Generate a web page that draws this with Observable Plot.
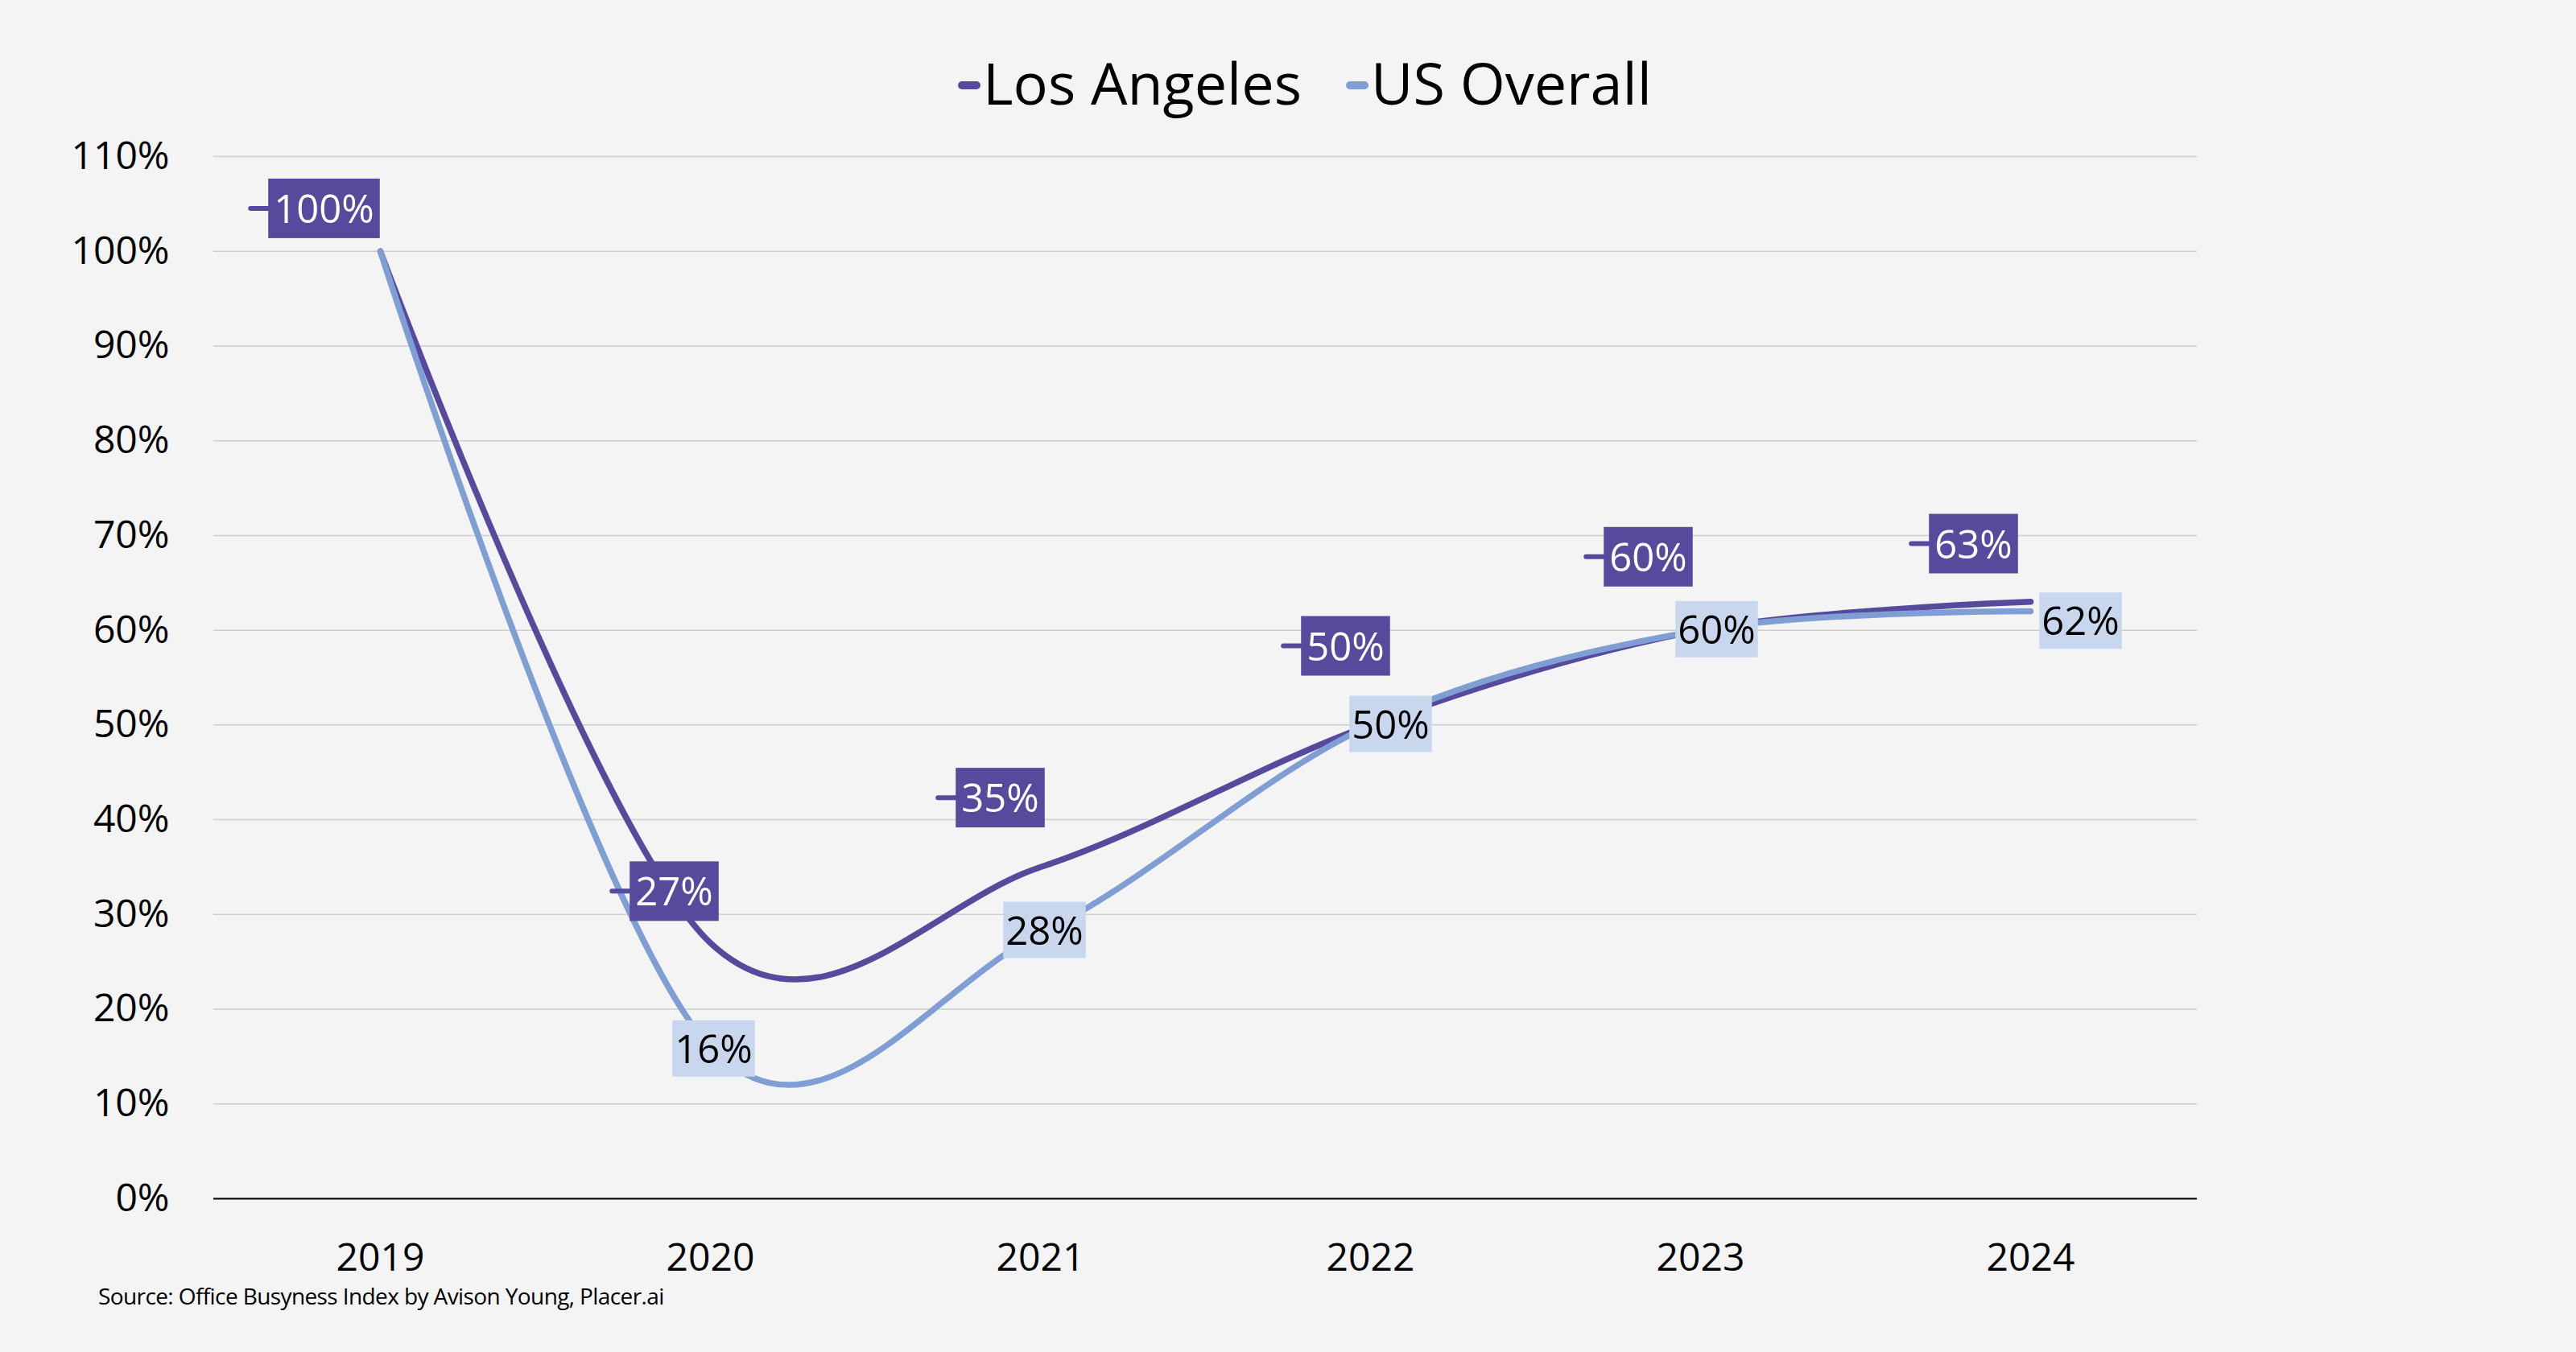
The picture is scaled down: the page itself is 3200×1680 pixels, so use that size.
<!DOCTYPE html>
<html>
<head>
<meta charset="utf-8">
<script src="https://cdn.jsdelivr.net/npm/d3@7"></script>
<script src="https://cdn.jsdelivr.net/npm/@observablehq/plot@0.6"></script>
<style>
  html, body { margin: 0; padding: 0; background: #f4f4f4; }
  #wrap { width: 3200px; height: 1680px; background: #f4f4f4; font-family: "Open Sans", sans-serif; color: #000; }
  #legend { height: 150px; box-sizing: border-box; padding-top: 54px; padding-left: 1190px; display: flex; align-items: center; font-size: 72px; line-height: 1; }
  #legend .key { width: 28px; height: 10px; border-radius: 5px; margin-top: 8px; margin-right: 3px; }
  #legend .item { display: flex; align-items: center; margin-right: 55px; }
  #chart { height: 1440px; }
  #caption { height: 40px; line-height: 40px; padding-left: 122px; font-size: 28px; letter-spacing: -0.6px; }
</style>
</head>
<body>
<div id="wrap">
  <div id="legend"></div>
  <div id="chart"></div>
  <div id="caption"></div>
</div>
<script>
// ---- data ----
const years = ["2019", "2020", "2021", "2022", "2023", "2024"];
const seriesNames = ["Los Angeles", "US Overall"];
const laValues = [100, 27, 35, 50, 60, 63];
const usValues = [100, 16, 28, 50, 60, 62];
const yTicks = [0, 10, 20, 30, 40, 50, 60, 70, 80, 90, 100, 110];
const captionText = "Source: Office Busyness Index by Avison Young, Placer.ai";
// label nudges (px) relative to each data point; null = label not shown
const laLabelNudge = [[-70, -51], [-45, -62], [-50, -84], [-31, -96], [-65, -89], [-71, -70]];
const usLabelNudge = [null, [4, 4], [5, -2], [25, 1], [20, 1], [62, 14]];

// ---- styles ----
const LA = "#564a9d";
const US = "#7f9fd4";
const US_BOX = "#c9d7ee";

const laRows = years.map((year, i) => ({year, value: laValues[i], series: seriesNames[0]}));
const usRows = years.map((year, i) => ({year, value: usValues[i], series: seriesNames[1]}));

// legend
const legend = document.getElementById("legend");
[[seriesNames[0], LA], [seriesNames[1], US]].forEach(([name, color]) => {
  const item = document.createElement("div");
  item.className = "item";
  const key = document.createElement("div");
  key.className = "key";
  key.style.background = color;
  const label = document.createElement("span");
  label.textContent = name;
  item.append(key, label);
  legend.append(item);
});
document.getElementById("caption").textContent = captionText;

const laLabelMarks = laRows.map((d, i) => laLabelNudge[i] ? Plot.text([d], {
  x: "year", y: "value", text: r => r.value + "%",
  dx: laLabelNudge[i][0], dy: laLabelNudge[i][1],
  fill: "white", fontSize: 49, className: "lbl-la"
}) : null).filter(Boolean);

const usLabelMarks = usRows.map((d, i) => usLabelNudge[i] ? Plot.text([d], {
  x: "year", y: "value", text: r => r.value + "%",
  dx: usLabelNudge[i][0], dy: usLabelNudge[i][1],
  fill: "#000", fontSize: 49, className: "lbl-us"
}) : null).filter(Boolean);

const plot = Plot.plot({
  width: 3200,
  height: 1440,
  marginLeft: 265,
  marginRight: 471,
  marginTop: 44,
  marginBottom: 101,
  style: {fontFamily: "Open Sans", fontSize: "48px", color: "#000", background: "transparent", overflow: "visible"},
  x: {type: "point", domain: years, padding: 0.5, label: null, tickSize: 0, tickPadding: 55},
  y: {domain: [0, 110], ticks: yTicks, tickFormat: d => d + "%", label: null, tickSize: 0, tickPadding: 55},
  marks: [
    Plot.ruleY(yTicks, {stroke: "#cdcdcd", strokeWidth: 1.5}),
    Plot.ruleY([0], {stroke: "#000", strokeWidth: 2}),
    Plot.line(laRows, {x: "year", y: "value", stroke: LA, strokeWidth: 7.5, curve: "cardinal", strokeLinecap: "round", strokeLinejoin: "round"}),
    Plot.line(usRows, {x: "year", y: "value", stroke: US, strokeWidth: 7.5, curve: "cardinal", strokeLinecap: "round", strokeLinejoin: "round"}),
    ...laLabelMarks,
    ...usLabelMarks
  ]
});
document.getElementById("chart").append(plot);

// label boxes behind the text
const svgns = "http://www.w3.org/2000/svg";
function boxify(selector, fill, padX, h, dash) {
  plot.querySelectorAll(selector).forEach(g => {
    g.querySelectorAll("text").forEach(t => {
      const b = t.getBBox();
      const cx = b.x + b.width / 2, cy = b.y + b.height / 2 + 1;
      const w = b.width + 2 * padX;
      const tr = t.getAttribute("transform");
      if (dash) {
        const l = document.createElementNS(svgns, "line");
        l.setAttribute("x1", cx - w / 2 - 22);
        l.setAttribute("x2", cx - w / 2 + 2);
        l.setAttribute("y1", cy);
        l.setAttribute("y2", cy);
        l.setAttribute("stroke", dash);
        l.setAttribute("stroke-width", 6);
        l.setAttribute("stroke-linecap", "round");
        if (tr) l.setAttribute("transform", tr);
        t.parentNode.insertBefore(l, t);
      }
      const r = document.createElementNS(svgns, "rect");
      r.setAttribute("x", cx - w / 2);
      r.setAttribute("y", cy - h / 2);
      r.setAttribute("width", w);
      r.setAttribute("height", h);
      r.setAttribute("fill", fill);
      r.setAttribute("stroke", "none");
      if (tr) r.setAttribute("transform", tr);
      t.parentNode.insertBefore(r, t);
    });
  });
}
boxify("g.lbl-la", LA, 7, 74, LA);
boxify("g.lbl-us", US_BOX, 3, 70, null);
</script>
</body>
</html>
